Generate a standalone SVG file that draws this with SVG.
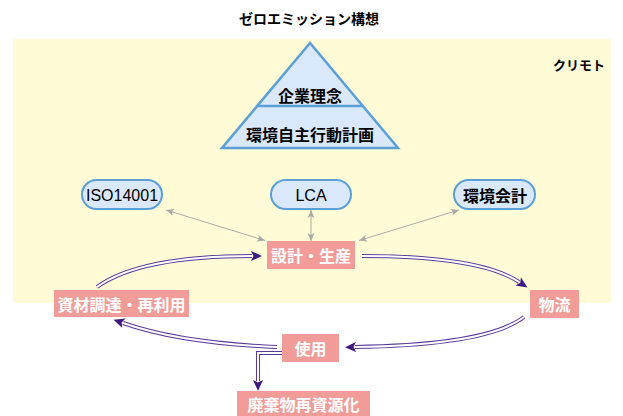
<svg xmlns="http://www.w3.org/2000/svg" width="623" height="416" viewBox="0 0 623 416">
<style>
.jp{font-family:"Noto Sans CJK JP","Liberation Sans",sans-serif;font-weight:bold;}
.lat{font-family:"Liberation Sans","Noto Sans CJK JP",sans-serif;}
.pill{fill:#dae8fc;stroke:#5b9fd6;stroke-width:2;}
.pink{fill:#f19c99;}
.wt{fill:#ffffff;font-size:16px;text-anchor:middle;dominant-baseline:central;}
.bk{fill:#000000;text-anchor:middle;dominant-baseline:central;}
.gray{fill:none;stroke:#aaaaaa;stroke-width:1;marker-start:url(#ga);marker-end:url(#ga);}
.pout{fill:none;stroke:#5a3a9a;stroke-width:4;marker-end:url(#pa);}
.pin{fill:none;stroke:#ffffff;stroke-width:2;}
</style>
<defs>
<marker id="ga" markerUnits="userSpaceOnUse" markerWidth="10" markerHeight="10" viewBox="0 0 10 10" refX="9" refY="5" orient="auto-start-reverse">
<path d="M1,1.5 L9,5 L1,8.5 L3,5 Z" fill="#aaaaaa"/>
</marker>
<marker id="pa" markerUnits="userSpaceOnUse" markerWidth="12" markerHeight="12" viewBox="0 0 12 12" refX="1" refY="6" orient="auto">
<path d="M0,1 L11,6 L0,11 L2.5,6 Z" fill="#3e1a80"/>
</marker>
</defs>
<rect x="13" y="39" width="598" height="264" fill="#fffbd6"/>
<g id="title"><text class="jp bk" x="309" y="18" font-size="14">ゼロエミッション構想</text></g>
<g id="kurimoto"><text class="jp bk" x="579" y="64" font-size="13">クリモト</text></g>
<g id="pyramid">
<polygon points="310,43 222,148 398,148" fill="#dae8fc" stroke="#5b9fd6" stroke-width="2.5" stroke-linejoin="miter"/>
<line x1="257" y1="106" x2="364" y2="106" stroke="#5b9fd6" stroke-width="2.5"/>
<text class="jp bk" x="310" y="95" font-size="16">企業理念</text>
<text class="jp bk" x="310" y="134" font-size="16">環境自主行動計画</text>
</g>
<g id="iso"><rect class="pill" x="82" y="180" width="80" height="29" rx="14.5"/><text class="lat bk" x="122" y="195" font-size="16">ISO14001</text></g>
<g id="lca"><rect class="pill" x="271" y="180" width="80" height="29" rx="14.5"/><text class="lat bk" x="311" y="195" font-size="16">LCA</text></g>
<g id="kankyo"><rect class="pill" x="454" y="180" width="81" height="29" rx="14.5"/><text class="jp bk" x="495" y="195" font-size="16">環境会計</text></g>
<g id="sekkei"><rect class="pink" x="267" y="241" width="88" height="28"/><text class="jp wt" x="311" y="255">設計・生産</text></g>
<g id="shizai"><rect class="pink" x="54" y="290" width="135" height="27"/><text class="jp wt" x="121.5" y="303.5">資材調達・再利用</text></g>
<g id="butsuryu"><rect class="pink" x="530" y="290" width="49" height="28"/><text class="jp wt" x="554.5" y="304">物流</text></g>
<g id="shiyo"><rect class="pink" x="282" y="334" width="57" height="28"/><text class="jp wt" x="310.5" y="348">使用</text></g>
<g id="haiki"><rect class="pink" x="237" y="391" width="133" height="28"/><text class="jp wt" x="303.5" y="404">廃棄物再資源化</text></g>
<g id="connectors">
<line class="gray" x1="166" y1="210" x2="265" y2="240.5"/>
<line class="gray" x1="311" y1="210" x2="311" y2="241"/>
<line class="gray" x1="459" y1="210" x2="359" y2="240.5"/>
<path class="pout" d="M97,287 Q140,256 252,256"/>
<path class="pin" d="M97,287 Q140,256 252,256"/>
<path class="pout" d="M362,256 Q480,256 519,282"/>
<path class="pin" d="M362,256 Q480,256 519,282"/>
<path class="pout" d="M524,317 Q488,345 355,347"/>
<path class="pin" d="M524,317 Q488,345 355,347"/>
<path class="pout" d="M277,347 Q180,343 123,323"/>
<path class="pin" d="M277,347 Q180,343 123,323"/>
<path class="pout" d="M282,353 H258 V381"/>
<path class="pin" d="M282,353 H258 V381"/>
</g>
</svg>
